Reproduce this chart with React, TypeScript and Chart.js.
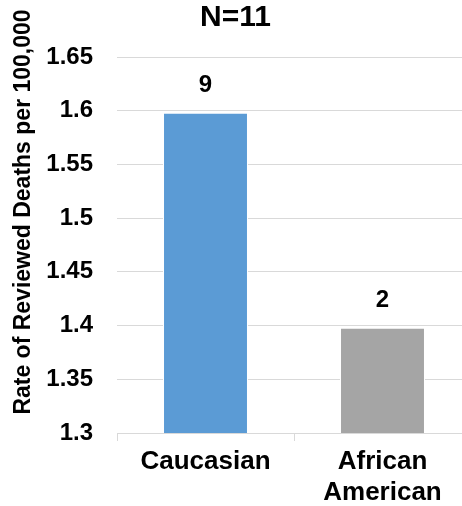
import React, { useEffect, useRef } from "react";
import { Chart, registerables } from "chart.js";

Chart.register(...registerables);

const categories: (string | string[])[] = ["Caucasian", ["African", "American"]];
const rates: number[] = [1.598, 1.398];
const counts: number[] = [9, 2];
const barColors: string[] = ["#5B9BD5", "#A5A5A5"];
const yTicks: number[] = [1.3, 1.35, 1.4, 1.45, 1.5, 1.55, 1.6, 1.65];
const chartTitle = "N=11";
const yTitle = "Rate of Reviewed Deaths per 100,000";

const FONT = "'Liberation Sans', Arial, sans-serif";

const countLabels = {
  id: "countLabels",
  afterDatasetsDraw(chart: any) {
    const ctx = chart.ctx;
    const meta = chart.getDatasetMeta(0);
    ctx.save();
    ctx.font = `bold 24px ${FONT}`;
    ctx.fillStyle = "#000";
    ctx.textAlign = "center";
    ctx.textBaseline = "middle";
    meta.data.forEach((bar: any, i: number) => {
      ctx.fillText(String(counts[i]), bar.x, bar.y - 27);
    });
    ctx.restore();
  },
};

const yAxisTitle = {
  id: "yAxisTitle",
  afterDraw(chart: any) {
    const ctx = chart.ctx;
    const area = chart.chartArea;
    ctx.save();
    ctx.font = `bold 23px ${FONT}`;
    ctx.fillStyle = "#000";
    ctx.textAlign = "center";
    ctx.textBaseline = "middle";
    ctx.translate(area.left - 93, area.top + 155);
    ctx.rotate(-Math.PI / 2);
    ctx.fillText(yTitle, 0, 0);
    ctx.restore();
  },
};

export default function App() {
  const ref = useRef<HTMLCanvasElement>(null);
  useEffect(() => {
    if (!ref.current) return;
    const chart = new Chart(ref.current, {
      type: "bar",
      data: {
        labels: categories as any,
        datasets: [
          {
            data: rates,
            backgroundColor: barColors,
            borderColor: "#ffffff",
            borderWidth: 1,
            categoryPercentage: 1,
            barPercentage: 0.48,
          },
        ],
      },
      options: {
        animation: false,
        responsive: false,
        layout: { padding: { left: 0, right: 27, top: 0, bottom: 0 } },
        plugins: {
          legend: { display: false },
          tooltip: { enabled: false },
          title: {
            display: true,
            text: chartTitle,
            color: "#000",
            font: { family: FONT, size: 30, weight: "bold" },
            padding: { top: 0, bottom: 21 },
          },
        },
        scales: {
          x: {
            grid: {
              drawOnChartArea: false,
              drawTicks: true,
              tickLength: 8,
              color: "#d9d9d9",
            },
            border: { display: true, color: "#d9d9d9", width: 1 },
            ticks: {
              color: "#000",
              padding: 5,
              font: { family: FONT, size: 26, weight: "bold", lineHeight: 1.2 },
              maxRotation: 0,
              autoSkip: false,
            },
            afterFit(scale: any) {
              scale.height = 73;
            },
          },
          y: {
            min: 1.3,
            max: 1.65,
            grid: { color: "#d9d9d9", drawTicks: false, lineWidth: 1 },
            border: { display: false },
            ticks: {
              color: "#000",
              padding: 24,
              font: { family: FONT, size: 24, weight: "bold" },
              callback: (v: any) => String(Number(Number(v).toFixed(2))),
            },
            afterBuildTicks(scale: any) {
              scale.ticks = yTicks.map((v) => ({ value: v }));
            },
            afterFit(scale: any) {
              scale.width = 117;
            },
          },
        },
      },
      plugins: [countLabels, yAxisTitle],
    });
    return () => chart.destroy();
  }, []);
  return (
    <div
      style={{
        position: "fixed",
        left: 0,
        top: 0,
        width: 462,
        height: 506,
        overflow: "hidden",
        background: "#fff",
      }}
    >
      <canvas ref={ref} width={498} height={506} style={{ display: "block" }} />
    </div>
  );
}
